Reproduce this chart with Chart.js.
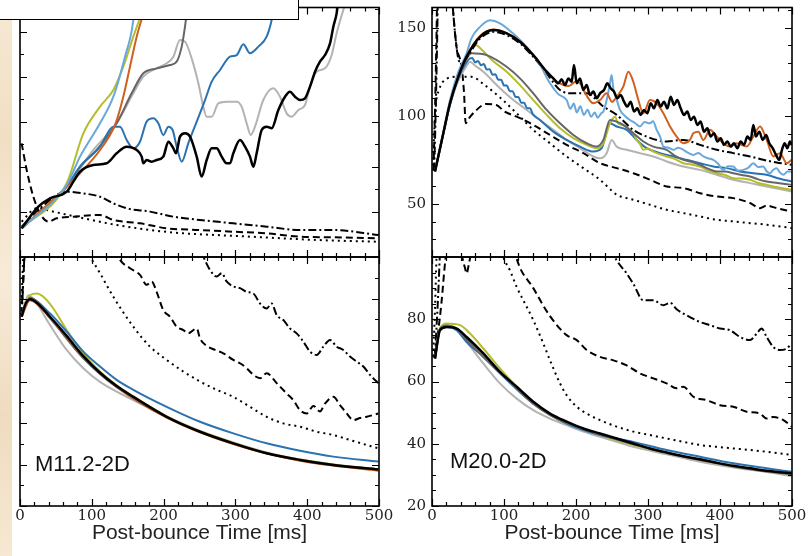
<!DOCTYPE html>
<html>
<head>
<meta charset="utf-8">
<script src="https://cdn.jsdelivr.net/npm/chart.js@4.4.1/dist/chart.umd.min.js"></script>
<style>
html,body{margin:0;padding:0;background:#fff;}
#wrap{position:relative;width:808px;height:556px;overflow:hidden;background:#fff;}
#wrap canvas{position:absolute;left:0;top:0;}
#strip{position:absolute;left:0;top:0;width:12px;height:556px;z-index:5;
  background:linear-gradient(180deg,#f6e9d4 0%,#f1dfc3 25%,#f7ebd8 50%,#efdcc0 75%,#f6e8d2 100%);}
#legendBox{position:absolute;left:-3px;top:-3px;width:302px;height:23px;box-sizing:border-box;
  border:1.5px solid #000;background:#fff;z-index:6;}
</style>
</head>
<body>
<div id="wrap">
  <canvas id="cTL" width="808" height="556"></canvas>
  <canvas id="cBL" width="808" height="556"></canvas>
  <canvas id="cTR" width="808" height="556"></canvas>
  <canvas id="cBR" width="808" height="556"></canvas>
  <div id="strip"></div>
  <div id="legendBox"></div>
</div>
<script>
// ---------------- tick labels ----------------
const X_TICKS = [0, 100, 200, 300, 400, 500];
const TR_Y_TICKS = [50, 100, 150];
const BR_Y_TICKS = [20, 40, 60, 80];
const X_TITLE = 'Post-bounce Time [ms]';
const PANEL_LABELS = ['M11.2-2D', 'M20.0-2D'];

// ---------------- top-left (M11.2, upper) ----------------
const tlBlack = [[2.3,31.9],[25.5,55.9],[41.8,65.2],[65,72.6],[74.3,83.7],[83.6,94.8],[102.1,102.2],[120.7,104.1],[134.6,115.2],[148.6,122.6],[162.5,118.9],[169.5,111.5],[171.8,104.1],[176.4,107.8],[183.4,105.9],[190.3,107.8],[199.6,111.5],[206.6,128.1],[213.6,120.7],[217.3,115.2],[222.8,133.7],[229.8,137.4],[236.8,133.7],[246.1,111.5],[253,89.3],[260,107.8],[267,120.7],[273.9,120.7],[280.9,111.5],[287.8,104.1],[292.5,104.1],[297.1,115.2],[306.4,130],[313.4,122.6],[320.3,111.5],[325,100.4],[329.6,115.2],[336.6,141.1],[343.5,144.8],[350.5,143],[359.8,163.3],[369.1,178.1],[376,183.7],[383,178.1],[390,174.4],[396.9,176.3],[403.9,189.3],[410.9,205.9],[417.8,217],[424.8,224.4],[431.8,237.4],[436.4,255.9],[441,270.7],[443.4,285.6]];
const tlLightGray = [[2.3,31.9],[65,78.1],[102.1,118.9],[134.6,148.5],[157.8,181.9],[171.8,200.4],[190.3,209.6],[204.3,215.2],[213.6,222.6],[222.8,241.1],[229.8,239.3],[239.1,220.7],[248.4,193],[255.3,167],[260,155.9],[267,155.9],[276.2,170.7],[287.8,172.6],[301.8,172.6],[308.7,167],[315.7,148.5],[321.3,135.6],[327.3,144.8],[338.9,174.4],[352.8,187.4],[362.1,178.1],[371.4,159.6],[378.4,155.9],[387.7,163.3],[396.9,168.9],[403.9,189.3],[413.2,205.9],[424.8,209.6],[434.1,224.4],[441,248.5],[450.3,274.4],[455,285.6]];
const tlDarkGray = [[2.3,31.9],[65,78.1],[83.6,100.4],[106.8,118.9],[134.6,148.5],[155.5,181.9],[171.8,204.1],[190.3,209.6],[208.9,213.3],[218.2,217],[225.2,233.7],[229.8,255.9],[234.4,285.6]];
const tlBlue = [[2.3,31.9],[65,78.1],[83.6,100.4],[111.4,122.6],[130,144.8],[139.3,144.8],[148.6,130],[157.8,120.7],[167.1,128.1],[176.4,150.4],[185.7,154.1],[192.7,148.5],[199.6,135.6],[206.6,144.8],[212.6,141.1],[218.2,122.6],[225.2,105.9],[234.4,126.3],[246.1,150.4],[257.7,174.4],[267,194.8],[278.6,207.8],[292.5,222.6],[301.8,224.4],[311,236.3],[320.3,226.3],[332,233.7],[343.5,244.8],[350.5,263.3],[355.2,285.6]];
const tlLightBlue = [[2.3,31.9],[65,80],[83.6,111.5],[111.4,148.5],[130,178.1],[146.2,222.6],[157.8,263.3],[160.2,285.6]];
const tlYellow = [[2.3,31.9],[65,81.9],[88.2,137.4],[111.4,167],[130,185.6],[143.9,211.5],[157.8,244.8],[169.5,270.7],[176.4,285.6]];
const tlOrange = [[2.3,31.9],[65,78.1],[83.6,93],[111.4,118.9],[132.3,146.7],[143.9,178.1],[153.2,211.5],[162.5,244.8],[171.8,270.7],[176.4,285.6]];
const tlDashDot = [[2.3,33.7],[27.9,54.1],[65,72.6],[88.2,70.7],[111.4,67],[130,59.6],[148.6,54.1],[181.1,50.4],[213.6,44.8],[250.7,41.1],[297.1,37.4],[343.5,33.7],[390,30],[436.4,30],[499,24.4]];
const tlDashed = [[2.3,126.3],[9.3,96.7],[18.6,67],[27.9,48.5],[39.5,39.3],[51.1,43],[74.3,44.8],[111.4,46.7],[130,41.1],[167.1,37.4],[204.3,31.9],[250.7,30],[297.1,28.1],[343.5,26.3],[390,22.6],[436.4,21.9],[499,20.7]];
const tlDotted = [[2.3,39.3],[23.2,54.1],[46.4,50.4],[88.2,43],[134.6,35.6],[181.1,30],[227.5,26.3],[273.9,24.4],[320.3,22.6],[366.8,20.7],[413.2,18.9],[499,17]];

// ---------------- bottom-left (M11.2, lower) ----------------
const blBlack = [[2.3,45.6],[7,48.4],[13.9,49.8],[23.2,49],[41.8,45.6],[65,41],[88.2,36.1],[111.4,32.1],[134.6,28.9],[157.8,26.3],[204.3,21.5],[250.7,17.9],[297.1,15.1],[343.5,12.7],[390,11.1],[436.4,9.9],[499,8.8]];
const blBlue = [[2.3,46],[13.9,50],[41.8,46.4],[65,42],[88.2,37.2],[111.4,33.6],[134.6,30.4],[157.8,28],[204.3,23.9],[250.7,20.3],[297.1,17.5],[343.5,15.1],[390,13.3],[436.4,11.9],[499,10.7]];
const blYellow = [[2.3,46],[13.9,50.8],[23.2,51.2],[32.5,50.4],[46.4,47.6],[65,42.4],[88.2,36.8],[111.4,32.4],[134.6,29.1],[157.8,26.4],[204.3,21.6],[250.7,18],[297.1,15.2],[343.5,12.8],[390,11.2],[436.4,10],[499,8.9]];
const blLightGray = [[2.3,46],[11.6,50.8],[23.2,48.8],[41.8,43.6],[65,37.6],[88.2,33.2],[111.4,29.9],[157.8,25.5],[204.3,21.5],[250.7,18.1],[297.1,15.3],[343.5,12.9],[390,11.2],[436.4,10],[499,8.9]];
const blOrange = [[2.3,45.6],[13.9,49.6],[41.8,45.4],[88.2,36],[134.6,28.8],[204.3,21.3],[297.1,14.9],[390,10.9],[499,8.5]];
const blDarkGray = [[2.3,45.6],[13.9,50.2],[41.8,45.2],[88.2,35.6],[134.6,28.6],[204.3,21.4],[297.1,15],[390,11],[499,8.7]];
const blDotted = [[1.5,46],[4,58],[6,66],[20,80],[60,75],[85,64],[97.5,60.1],[111.4,56.1],[130,50.4],[157.8,43.2],[181.1,38.4],[204.3,35.2],[227.5,32.4],[250.7,30],[273.9,28],[297.1,26.3],[320.3,23.9],[343.5,21.5],[366.8,19.9],[390,19.1],[413.2,17.9],[436.4,17.1],[459.6,15.9],[499,13.9]];
const blDashed = [[2,46],[5,56],[7,62],[20,78],[80,72],[125,64],[132,62],[139.3,59.3],[153.2,57.3],[167.1,55.7],[176.4,53.3],[183.4,54.1],[190.3,51.6],[199.6,47.2],[208.9,45.6],[218.2,43.2],[227.5,42.4],[234.4,41.6],[246.1,42.8],[250.7,40.4],[260,38.6],[271.6,37.6],[283.2,36.8],[297.1,35.2],[306.4,34.4],[315.7,33.2],[325,31.6],[334.3,30.8],[343.5,32],[357.5,29.6],[371.4,27.1],[380.7,25.5],[390,23.1],[399.3,22.3],[408.6,24.1],[417.8,22.8],[424.8,24.7],[436.4,26.3],[445.7,24.3],[455,22.3],[464.3,20.7],[473.6,21.2],[482.9,21.5],[499,22.3]];
const blDashDot = [[2.5,46],[5.5,58],[8,66],[30,80],[200,75],[245,64],[255.3,60.1],[264.6,56.9],[273.9,55.3],[280.9,56.1],[287.8,54.1],[297.1,52.9],[306.4,52.5],[315.7,51.6],[325,51.2],[334.3,48.8],[343.5,47.6],[350.5,48.8],[357.5,46],[366.8,44.8],[376,42.8],[385.3,41.6],[394.6,39.6],[403.9,37.2],[413.2,36.4],[422.5,38.4],[431.8,40],[441,38.4],[450.3,37.6],[459.6,36],[468.9,34.8],[478.2,33.6],[487.5,31.6],[499,29.6]];

// ---------------- top-right (M20.0, upper) ----------------
const trBlack = [[4.2,68.5],[15.7,90.2],[25,107.2],[36.6,122.3],[48.1,133.6],[66.7,144.9],[85.2,148.7],[103.7,146.8],[122.2,142.1],[140.7,134.5],[159.3,125.1],[168.5,121.3],[175.5,118.5],[180,120.8],[184.7,117.5],[189.4,121.3],[194,119.4],[197.2,128.9],[201,118.5],[205.6,121.3],[210.2,114.7],[214.8,117.5],[219.4,111.9],[224.1,113.8],[228.7,110],[233.3,112.8],[238.9,114.7],[243.5,118.5],[248.1,115.7],[252.8,113.8],[257.4,110],[262,111.9],[266.7,108.1],[271.3,105.3],[275.9,108.1],[280.6,102.5],[285.2,104.3],[289.8,100.6],[294.4,103.4],[299.1,101.5],[303.7,107.2],[308.3,104.3],[313,109],[317.6,105.3],[322.2,108.1],[326.9,104.3],[331.5,110.9],[336.1,106.2],[340.7,109],[345.4,104.3],[350,100.6],[354.6,102.5],[359.3,97.7],[363.9,99.6],[368.5,94.9],[373.1,96.8],[377.8,91.1],[382.4,93],[387,88.3],[391.7,90.2],[396.3,85.5],[400.9,87.4],[405.6,83.6],[410.2,85.5],[414.8,82.6],[419.4,84.5],[424.1,81.7],[428.7,85.5],[433.3,83.6],[438,88.3],[442.6,86.4],[446.3,94.9],[450,88.3],[454.6,91.1],[459.3,86.4],[463.9,89.2],[468.5,84.5],[473.1,81.7],[477.8,77.9],[482.4,75.1],[486.1,80.8],[489.8,84.5],[493.5,81.7],[497.2,85.5],[499.5,83.6]];
const trOrange = [[4.2,68.5],[15.7,90.2],[25,107.2],[36.6,122.3],[48.1,133.8],[66.7,145.3],[85.2,149],[103.7,147],[122.2,142.2],[140.7,134.4],[159.3,125],[175,119],[190,117],[200,119.5],[205.6,118.5],[214,112],[224.1,107.2],[233.3,109],[242.6,112.8],[250,108],[256.5,110.9],[265.7,116.6],[272.7,125.1],[279.6,119.4],[286.6,109],[293.5,101.5],[302.8,109],[312,107.2],[321.3,101.5],[330.6,94],[339.8,88.3],[349.1,84.5],[358.3,86.4],[363,90.2],[370,91.1],[376.9,86.4],[386.1,92.1],[395.4,88.3],[404.6,84.5],[413.9,82.6],[423.1,84.5],[437,82.6],[446.3,88.3],[455.6,94],[464.8,86.4],[474.1,77],[483.3,78.9],[492.6,73.2],[499.5,75.1]];
const trLightBlue = [[4.2,68.5],[15.7,90.5],[25,109],[36.6,125],[48.1,135.5],[54.6,143.9],[66.7,150.5],[80.6,154.2],[94.4,152.5],[117.6,144.9],[133,138.5],[150,129],[163.9,118.5],[175,112.5],[187,109],[192,104],[197,107],[201,102],[206,105.5],[211,100.5],[216,103.5],[221,99.5],[226,102],[230,99],[235,101.5],[238,102.5],[242.6,109],[247,118],[249.5,123.2],[252,115],[256,110],[261.1,103.4],[268,100],[275,97.7],[282,96],[288.9,94],[295,96.5],[302.8,95.8],[307,97],[312,92.1],[317,88],[321.3,82.6],[328,82],[335.2,80.8],[342,82],[349.1,80.8],[356,79],[363,77.9],[370,79],[376.9,77],[383,76],[390.7,75.1],[397,73],[404.6,69.4],[411,71.5],[418.5,71.3],[425,69],[432.4,69.4],[439,70.5],[446.3,73.2],[453,71],[460.2,71.3],[465,68.5],[469.4,67.5],[474,69.5],[478.7,70.4],[483,68],[488,66.6],[494,68.5],[499.5,68.5]];
const trYellow = [[4.2,68.5],[15.7,90],[25,107.2],[36.6,124],[48.1,134],[55.1,138.5],[61.6,140.1],[66.7,138.5],[85.2,131],[103.7,125.1],[122.2,117.5],[140.7,109],[159.3,100.6],[177.8,93],[196.3,87.4],[214.8,83.6],[228.7,81.7],[238,84.5],[247.2,95.8],[254.2,99.6],[258,96],[263.4,94.9],[270,94],[275,92.1],[280,90],[284.3,86.4],[289,84],[293.5,80.8],[300,81.5],[307.4,79.8],[315,78.5],[325.9,77],[335,76],[349.1,73.2],[360,72.5],[372.2,71.3],[384,69],[395.4,67.5],[407,66.5],[418.5,64.7],[430,64.5],[441.7,63.8],[453,62],[464.8,60.9],[480,59.5],[499.5,58.1]];
const trDarkGray = [[4.2,68.5],[15.7,90],[25,107],[36.6,123],[48.1,132.5],[55.1,135.5],[75.9,134.5],[103.7,127.9],[122.2,121.3],[140.7,112.8],[159.3,103.4],[177.8,95.8],[196.3,89.2],[214.8,84.5],[228.7,82.6],[238,86.4],[247.2,97.7],[256.5,96.8],[265.7,94.9],[279.6,90.2],[293.5,85.5],[307.4,82.6],[325.9,80.8],[337,77.5],[349.1,75.1],[360,74],[372.2,72.3],[384,70],[395.4,68.5],[407,68.5],[418.5,67.5],[430,66.5],[441.7,65.7],[453,64],[464.8,62.8],[480,62],[499.5,60.9]];
const trBlue = [[4.2,68.5],[15.7,90],[25,106.5],[36.6,121.5],[48.1,130.5],[52.8,132.6],[56,132.8],[60,130.4],[64,131.2],[68,128.8],[72,129.4],[76,126.3],[80,126.5],[84,123.4],[88,123.6],[92,120.5],[96,120.5],[100,117.3],[104,117.2],[108,114],[112,114],[116,110.7],[120,110.7],[124,107.5],[128,107.5],[132,104.3],[136,104.3],[140,101],[150,97.7],[168.5,91.1],[187,86.4],[205.6,82.6],[224.1,79.8],[235.6,81.7],[247.2,95.8],[256.5,94],[270.4,92.1],[284.3,86.4],[298.1,81.7],[316.7,78.9],[335.2,77],[353.7,75.1],[372.2,73.2],[390.7,71.3],[409.3,70.4],[427.8,68.5],[446.3,67.5],[464.8,66.6],[482,64.5],[499.5,62.8]];
const trLightGray = [[4.2,68.5],[15.7,90],[25,106],[36.6,120],[48.1,128.5],[52.8,130.8],[60,128.5],[71.3,125.1],[94.4,115.7],[113,109],[131.5,103.4],[150,97.7],[168.5,92.1],[187,86.4],[205.6,81.7],[224.1,77],[233.3,76],[242.6,78.9],[249.5,86.4],[256.5,82.6],[270.4,80.8],[288.9,78.9],[307.4,77],[325.9,74.2],[349.1,71.3],[372.2,69.4],[395.4,66.6],[418.5,63.8],[441.7,61.9],[464.8,60],[499.5,57.2]];
const trDashed = [[2,69],[4,100],[6,140],[8,180],[24,188],[28,166],[33.8,140],[40.7,128.8],[44.4,113.7],[46.8,95.9],[52,99],[59.3,102.4],[75.5,106.8],[89.4,106.2],[101,102.4],[117.6,99.6],[140.7,94.9],[163.9,89.2],[187,83.6],[210.2,78.9],[233.3,73.2],[256.5,70.4],[279.6,67.5],[302.8,63.8],[325.9,60],[349.1,59.1],[372.2,56.2],[395.4,54.3],[418.5,53.4],[441.7,50.6],[455.6,47.7],[464.8,49.1],[478.7,47.7],[499.5,45.8]];
const trDashDot = [[3,69],[5,100],[7,140],[9,180],[24,188],[28,166],[33.8,140],[38,131],[44,131],[48.1,133],[66.7,143.9],[85.2,147.7],[103.7,145.8],[122.2,141.1],[140.7,133.5],[159.3,124.1],[177.8,114.7],[196.3,112.8],[214.8,112.8],[238,105.3],[256.5,100.6],[279.6,92.1],[298.1,88.3],[325.9,85.5],[349.1,86.4],[372.2,83.6],[395.4,80.8],[418.5,78.9],[441.7,77],[460.2,75.1],[478.7,73.6],[499.5,72.3]];
const trDotted = [[1.5,72],[3,90],[5,105],[10,115],[20,121],[33.8,122.2],[54.6,122.2],[73.2,117.5],[94.4,110.5],[117.6,101.5],[140.7,92.1],[163.9,84.5],[187,77],[210.2,70.4],[233.3,63.8],[250,57.5],[256.5,55.3],[279.6,52.5],[302.8,49.6],[325.9,46.8],[349.1,44.9],[372.2,43],[395.4,41.1],[418.5,40.2],[441.7,39.2],[464.8,38.3],[499.5,36.4]];

// ---------------- bottom-right (M20.0, lower) ----------------
const brBlack = [[4.2,67.4],[11.1,76.5],[20.4,77.5],[34.3,77],[48.1,74.3],[71.3,69],[94.4,63.1],[117.6,58.3],[140.7,53.5],[163.9,49.7],[187,47.1],[210.2,44.9],[233.3,43.3],[256.5,41.7],[279.6,40.1],[302.8,38.5],[325.9,37.2],[349.1,36],[372.2,35],[395.4,33.9],[418.5,32.9],[441.7,32.1],[464.8,31.3],[499.5,30.5]];
const brDarkGray = [[4.2,67.4],[11.1,77],[20.4,78],[34.3,77],[48.1,73.5],[71.3,68],[94.4,62.8],[117.6,57.8],[140.7,52.9],[163.9,49.3],[187,46.8],[233.3,43],[279.6,39.8],[325.9,37],[372.2,34.8],[418.5,32.7],[464.8,31.1],[499.5,30.3]];
const brLightGray = [[4.2,67.4],[11.1,77],[20.4,78],[34.3,76.5],[48.1,72.7],[71.3,65.8],[94.4,59.4],[117.6,54.5],[140.7,50.8],[163.9,48.1],[187,46],[210.2,43.9],[233.3,42.2],[256.5,40.6],[279.6,39],[325.9,36.6],[372.2,34.2],[418.5,32.4],[464.8,30.9],[499.5,29.6]];
const brYellow = [[4.2,67.4],[11.1,77],[20.4,78.6],[38.9,78.1],[52.8,75.4],[71.3,70.6],[94.4,64.2],[117.6,58.3],[140.7,52.9],[163.9,49.2],[187,46.5],[233.3,42.8],[279.6,39.6],[325.9,37],[372.2,34.8],[418.5,32.8],[464.8,31.2],[499.5,30.3]];
const brBlue = [[4.2,67.4],[11.1,76.5],[20.4,77.5],[34.3,76.5],[48.1,72.7],[71.3,67.9],[94.4,62.6],[117.6,57.5],[140.7,52.9],[187,46.5],[233.3,42.8],[279.6,40.6],[325.9,38],[372.2,35.8],[418.5,33.7],[464.8,32.1],[499.5,31]];
const brDotted = [[1.5,68],[4,82],[6,98],[8,112],[30,130],[80,118],[99.1,100],[108.3,95.7],[117.6,90.4],[131.5,84],[140.7,79.7],[154.6,72.2],[163.9,66.8],[177.8,59.4],[187,55.6],[201,51.9],[214.8,49.7],[233.3,47.6],[256.5,45.5],[279.6,43.9],[302.8,42.8],[325.9,41.7],[349.1,40.6],[372.2,39.6],[395.4,39],[418.5,38.5],[441.7,38],[464.8,37.4],[499.5,36.4]];
const brDashed = [[3,67.5],[8,75],[13,85],[19,100],[28,112],[38,106],[42,100],[45.8,96.5],[48.1,94.7],[51,97.5],[55,102],[80,118],[110,108],[117.6,99.5],[140.7,90],[163.9,81],[187,74.9],[201,73.3],[214.8,70.1],[233.3,67.9],[251.9,66.8],[270.4,65.2],[288.9,62.6],[307.4,61],[325.9,59.4],[339.8,57.8],[349.1,58.3],[363,55.1],[381.5,54],[400,52.4],[418.5,51.9],[437,50.3],[455.6,49.7],[464.8,48.1],[474.1,48.6],[488,47.6],[499.5,45.5]];
const brDashDot = [[4,68],[8,85],[12,105],[25,130],[200,125],[245,104],[256.5,98.9],[270.4,94.7],[279.6,91.4],[293.5,86.1],[307.4,86.1],[321.3,84.5],[330.6,85.3],[339.8,83.2],[349.1,81.8],[358.3,80.7],[372.2,79.1],[386.1,78.1],[400,77],[413.9,76.5],[427.8,74.3],[441.7,73.3],[451,75.4],[457.9,77],[464.8,74.3],[474.1,71.1],[483.3,70.1],[492.6,70.6],[499.5,72.2]];

// ---------------- styles ----------------
const C = {yellow:'#b5bd2c', lightBlue:'#68a8dc', orange:'#d0601d', blue:'#2a72b0', darkGray:'#666666', lightGray:'#b3b3b3', black:'#000000'};
const DASH = {dashed:[7,4], dotted:[2,4], dashDot:[8,3,2,3]};

function solid(pts, color, w){ return {pts, color, w: w || 2, dash: []}; }
function styled(pts, dash){ return {pts, color:'#000', w:2, dash}; }

const frameTicks = {
  id: 'frameTicks',
  afterDatasetsDraw(chart, args, o) {
    const {ctx, chartArea:{left, top, right, bottom}} = chart;
    const xs = chart.scales.x, ys = chart.scales.y;
    ctx.save();
    ctx.strokeStyle = '#000';
    ctx.lineWidth = 1.2;
    ctx.beginPath();
    for (let v = 0; v <= 500 + 1e-6; v += o.xMinor) {
      const p = Math.round(xs.getPixelForValue(v)) + 0.5;
      const len = (Math.abs(v % o.xMajor) < 1e-6) ? 7 : 4;
      ctx.moveTo(p, bottom); ctx.lineTo(p, bottom - len);
      ctx.moveTo(p, top); ctx.lineTo(p, top + len);
    }
    const y0 = Math.ceil(ys.min / o.yMinor - 1e-6) * o.yMinor;
    for (let v = y0; v <= ys.max + 1e-6; v += o.yMinor) {
      const p = Math.round(ys.getPixelForValue(v)) + 0.5;
      const r = v % o.yMajor;
      const len = (Math.abs(r) < 1e-6 || Math.abs(r - o.yMajor) < 1e-6) ? 7 : 4;
      ctx.moveTo(left, p); ctx.lineTo(left + len, p);
      ctx.moveTo(right, p); ctx.lineTo(right - len, p);
    }
    ctx.stroke();
    ctx.lineWidth = 1.6;
    ctx.strokeRect(left, top, right - left, bottom - top);
    if (o.label) {
      ctx.fillStyle = '#111';
      ctx.font = '22px "Liberation Sans"';
      ctx.textBaseline = 'alphabetic';
      ctx.fillText(o.label, left + o.lx, bottom - o.ly);
    }
    ctx.restore();
  }
};

function xAxis(showLabels) {
  const a = {type:'linear', min:0, max:500, display: showLabels,
    grid:{display:false, drawTicks:false}, border:{display:false}};
  if (showLabels) {
    a.afterBuildTicks = s => { s.ticks = X_TICKS.map(v => ({value:v})); };
    a.afterFit = s => { s.height = 50; s.paddingLeft = 0; s.paddingRight = 0; };
    a.ticks = {font:{family:'DejaVu Serif', size:15}, color:'#222', padding:1, maxRotation:0, autoSkip:false};
    a.title = {display:true, text:X_TITLE, font:{family:'Liberation Sans', size:21}, color:'#222', padding:{top:0, bottom:10}};
  }
  return a;
}
function yAxis(min, max, labels) {
  const a = {type:'linear', min, max, display: !!labels,
    grid:{display:false, drawTicks:false}, border:{display:false}};
  if (labels) {
    a.afterBuildTicks = s => { s.ticks = labels.map(v => ({value:v})); };
    a.afterFit = s => { s.width = 40; s.paddingTop = 0; s.paddingBottom = 0; };
    a.ticks = {font:{family:'DejaVu Serif', size:15}, color:'#222', padding:6, autoSkip:false};
  }
  return a;
}

function panel(id, cfg) {
  const datasets = cfg.series.map((s, i) => ({
    data: s.pts.map(p => ({x:p[0], y:p[1]})),
    borderColor: s.color, borderWidth: s.w, borderDash: s.dash,
    pointRadius: 0, fill: false, cubicInterpolationMode: 'monotone',
    borderJoinStyle: 'round', order: i
  }));
  new Chart(document.getElementById(id), {
    type: 'line',
    data: {datasets},
    options: {
      responsive: false, animation: false, devicePixelRatio: 1, events: [],
      layout: {padding: cfg.pad},
      scales: {x: xAxis(cfg.xLabels), y: yAxis(cfg.yMin, cfg.yMax, cfg.yLabels)},
      plugins: {legend:{display:false}, tooltip:{enabled:false}, frameTicks: cfg.ticks}
    },
    plugins: [frameTicks]
  });
}

// panel geometry: chart areas TL (20,7.5)-(379,257), BL (20,257)-(379,506), TR (432,7.5)-(792,257), BR (432,257)-(792,506)
panel('cTL', {
  pad: {left:20, top:7.5, right:429, bottom:299}, xLabels:false, yMin:0, yMax:277.2, yLabels:null,
  ticks: {xMinor:20, xMajor:100, yMinor:25, yMajor:50},
  series: [solid(tlBlack, C.black, 2.5), solid(tlLightBlue, C.lightBlue), solid(tlYellow, C.yellow), solid(tlOrange, C.orange),
    solid(tlBlue, C.blue), solid(tlDarkGray, C.darkGray), solid(tlLightGray, C.lightGray),
    styled(tlDashDot, DASH.dashDot), styled(tlDashed, DASH.dashed), styled(tlDotted, DASH.dotted)]
});
panel('cBL', {
  pad: {left:20, top:257, right:429, bottom:0}, xLabels:true, yMin:0, yMax:60, yLabels:null,
  ticks: {xMinor:20, xMajor:100, yMinor:5, yMajor:10, label:PANEL_LABELS[0], lx:15, ly:35},
  series: [solid(blBlack, C.black, 2.5), solid(blOrange, C.orange), solid(blDarkGray, C.darkGray), solid(blBlue, C.blue),
    solid(blYellow, C.yellow), solid(blLightGray, C.lightGray),
    styled(blDashDot, DASH.dashDot), styled(blDashed, DASH.dashed), styled(blDotted, DASH.dotted)]
});
panel('cTR', {
  pad: {left:392, top:7.5, right:16, bottom:299}, xLabels:false, yMin:20, yMax:161.5, yLabels:TR_Y_TICKS,
  ticks: {xMinor:20, xMajor:100, yMinor:10, yMajor:50},
  series: [solid(trBlack, C.black, 2.5), solid(trOrange, C.orange), solid(trLightBlue, C.lightBlue),
    styled(trDashDot, DASH.dashDot), solid(trDarkGray, C.darkGray), solid(trYellow, C.yellow), solid(trBlue, C.blue),
    solid(trLightGray, C.lightGray), styled(trDashed, DASH.dashed), styled(trDotted, DASH.dotted)]
});
panel('cBR', {
  pad: {left:392, top:257, right:16, bottom:0}, xLabels:true, yMin:20, yMax:100, yLabels:BR_Y_TICKS,
  ticks: {xMinor:20, xMajor:100, yMinor:5, yMajor:20, label:PANEL_LABELS[1], lx:18, ly:38},
  series: [solid(brBlack, C.black, 2.5), solid(brDarkGray, C.darkGray), solid(brBlue, C.blue), solid(brYellow, C.yellow),
    solid(brLightGray, C.lightGray),
    styled(brDashDot, DASH.dashDot), styled(brDashed, DASH.dashed), styled(brDotted, DASH.dotted)]
});
</script>
</body>
</html>
